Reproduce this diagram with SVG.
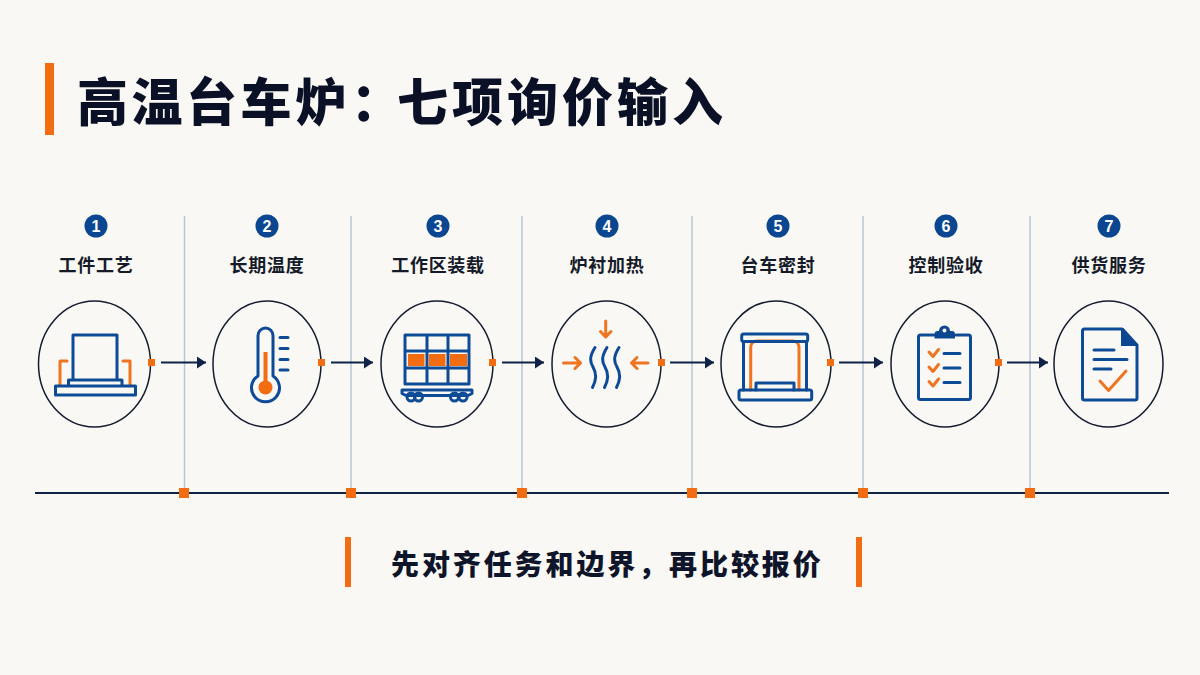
<svg xmlns="http://www.w3.org/2000/svg" width="1200" height="675" viewBox="0 0 1200 675">
<defs>
<marker id="ah" markerUnits="userSpaceOnUse" markerWidth="10" markerHeight="12" refX="9" refY="6" orient="auto"><path d="M0 0L9 6L0 12Z" fill="#0f2347"/></marker>
</defs>
<style>
text{font-family:"Noto Sans CJK SC","Liberation Sans",sans-serif;text-anchor:middle}
.title{font-size:51px;font-weight:900;fill:#0a1126;letter-spacing:3.500px;text-anchor:start}
.num{font-size:16px;font-weight:700;fill:#fff;font-family:"Liberation Sans",sans-serif}
.lab{font-size:18px;font-weight:700;fill:#141a28;letter-spacing:.7px}
.foot{font-size:28px;font-weight:900;fill:#0e1429;letter-spacing:2.900px;text-anchor:start}
.ring{fill:none;stroke:#141c30;stroke-width:1.500}
.b{fill:none;stroke:#0e4b97;stroke-width:3;stroke-linejoin:round;stroke-linecap:round}
.o{fill:none;stroke:#ee7420;stroke-width:3;stroke-linejoin:round;stroke-linecap:round}
.oo{fill:#f26c12}
.nb{fill:#0b4690}
.conn{stroke:#0f2347;stroke-width:2;fill:none;marker-end:url(#ah)}
.v{stroke:#b4c6d6;stroke-width:1.500}
</style>
<rect width="1200" height="675" fill="#faf8f5"/>
<rect x="45" y="63" width="9" height="72" class="oo"/>
<text class="title" y="120.500"><tspan x="77">高温台车炉</tspan><tspan x="351" style="letter-spacing:-6px">：</tspan><tspan x="397" style="letter-spacing:4px">七项询价输入</tspan></text>
<g id="rules">
<line class="v" x1="184.500" y1="216" x2="184.500" y2="492"/>
<line class="v" x1="351" y1="216" x2="351" y2="492"/>
<line class="v" x1="522" y1="216" x2="522" y2="492"/>
<line class="v" x1="692" y1="216" x2="692" y2="492"/>
<line class="v" x1="863" y1="216" x2="863" y2="492"/>
<line class="v" x1="1030" y1="216" x2="1030" y2="492"/>
<line x1="35" y1="493" x2="1169" y2="493" stroke="#0f2347" stroke-width="2"/>
<g class="oo">
<rect x="179" y="488" width="10" height="10"/><rect x="346" y="488" width="10" height="10"/><rect x="517" y="488" width="10" height="10"/><rect x="687" y="488" width="10" height="10"/><rect x="858" y="488" width="10" height="10"/><rect x="1025" y="488" width="10" height="10"/>
</g>
</g>
<g id="connectors">
<line class="conn" x1="161" y1="362.500" x2="206" y2="362.500"/>
<line class="conn" x1="331" y1="362.500" x2="373" y2="362.500"/>
<line class="conn" x1="502" y1="362.500" x2="544" y2="362.500"/>
<line class="conn" x1="670" y1="362.500" x2="714" y2="362.500"/>
<line class="conn" x1="839" y1="362.500" x2="883" y2="362.500"/>
<line class="conn" x1="1007" y1="362.500" x2="1048" y2="362.500"/>
</g>
<g id="node1">
<circle cx="96" cy="226" r="11.500" class="nb"/><text class="num" x="96" y="231.500">1</text>
<text class="lab" x="96" y="271.500">工件工艺</text>
<ellipse class="ring" cx="94.500" cy="364" rx="56" ry="63"/>
<path class="o" d="M60 385V361H67M130 385V361H123"/>
<path class="b" d="M73 380V335H117V380M68.500 386V380H122V386M55.500 386H135.500V395H55.500Z"/>
</g>
<g id="node2">
<circle cx="267" cy="226" r="11.500" class="nb"/><text class="num" x="267" y="231.500">2</text>
<text class="lab" x="267" y="271.500">长期温度</text>
<ellipse class="ring" cx="267" cy="364" rx="54" ry="63"/>
<path class="b" d="M258 376V335.500A7.500 7.500 0 0 1 273 335.500V376A14 14 0 1 1 258 376Z"/>
<line x1="265.500" y1="352" x2="265.500" y2="385" stroke="#f26c12" stroke-width="4"/>
<circle cx="265.500" cy="387.500" r="7" class="oo"/>
<path class="b" d="M280 337.500H288M280 348.500H288M280 359.500H288M280 370H288"/>
</g>
<g id="node3">
<circle cx="438" cy="226" r="11.500" class="nb"/><text class="num" x="438" y="231.500">3</text>
<text class="lab" x="438" y="271.500">工作区装载</text>
<ellipse class="ring" cx="437" cy="364" rx="56" ry="63"/>
<rect x="408" y="354" width="16.500" height="12" class="oo"/><rect x="429" y="354" width="16.500" height="12" class="oo"/><rect x="450" y="354" width="17" height="12" class="oo"/>
<path class="b" d="M405 335H469V384H405ZM427 335V384M448 335V384M405 351H469M405 368H469" stroke-linecap="butt"/>
<path class="b" d="M402 390H472V393.500L468 395.500H406L402 393.500Z" stroke-width="2.500"/>
<g class="b" fill="#faf8f5" stroke-width="2.500"><circle cx="411" cy="397" r="4"/><circle cx="418.500" cy="397" r="4"/><circle cx="454.500" cy="397" r="4"/><circle cx="463" cy="397" r="4"/></g>
</g>
<g id="node4">
<circle cx="607" cy="226" r="11.500" class="nb"/><text class="num" x="607" y="231.500">4</text>
<text class="lab" x="607" y="271.500">炉衬加热</text>
<ellipse class="ring" cx="606.500" cy="364" rx="54.500" ry="63"/>
<path class="o" stroke-width="2" d="M605.700 321V337M600.500 331.500L605.700 337L611 331.500M563.500 363H580.500M575 357.500L580.500 363L575 368.500M648 363H631.500M637 357.500L631.500 363L637 368.500"/>
<path class="b" d="M595 347.500C589 357 590 362 593 367C596 372 597 379 592.500 387.500M607 347.500C601 357 602 362 605 367C608 372 609 379 604.500 387.500M619 347.500C613 357 614 362 617 367C620 372 621 379 616.500 387.500"/>
</g>
<g id="node5">
<circle cx="778" cy="226" r="11.500" class="nb"/><text class="num" x="778" y="231.500">5</text>
<text class="lab" x="778" y="271.500">台车密封</text>
<ellipse class="ring" cx="776" cy="364" rx="55" ry="63"/>
<path class="o" d="M750.700 390V347A6 6 0 0 1 756.700 341H793A6 6 0 0 1 799 347V390"/>
<path class="b" d="M743.500 390V341.500M806.500 390V341.500"/>
<rect class="b" x="741.700" y="334" width="66" height="7.500" rx="2"/>
<rect class="b" x="739" y="390" width="72.700" height="10" rx="2"/>
<path class="b" d="M756 390V383H794V390"/>
</g>
<g id="node6">
<circle cx="946" cy="226" r="11.500" class="nb"/><text class="num" x="946" y="231.500">6</text>
<text class="lab" x="946" y="271.500">控制验收</text>
<ellipse class="ring" cx="945" cy="364" rx="54" ry="63"/>
<path class="b" d="M934 335H920.500A2 2 0 0 0 918.500 337V397.500A2 2 0 0 0 920.500 399.500H968.500A2 2 0 0 0 970.500 397.500V337A2 2 0 0 0 968.500 335H956"/>
<path class="nb" fill-rule="evenodd" d="M934.500 338.500V334Q934.500 331 938 331H939A5.500 5.500 0 0 1 950 331H952Q955 331 955 334V338.500ZM944.500 328.500A2 2 0 1 0 944.510 328.500Z"/>
<path class="o" d="M929 352L933 356.500L938.500 349.500M929 367L933 371.500L938.500 364.500M929 381.500L933 386L938.500 379"/>
<path class="b" d="M944 353.500H960M944 368H960M944 382.500H960"/>
</g>
<g id="node7">
<circle cx="1109" cy="226" r="11.500" class="nb"/><text class="num" x="1109" y="231.500">7</text>
<text class="lab" x="1109" y="271.500">供货服务</text>
<ellipse class="ring" cx="1108.500" cy="364" rx="54.500" ry="63"/>
<path class="b" d="M1122 329H1084.500A2 2 0 0 0 1082.500 331V398A2 2 0 0 0 1084.500 400H1135A2 2 0 0 0 1137 398V345"/>
<path class="nb" d="M1121 328H1123.500L1138 344V346H1121Z"/>
<path class="b" d="M1094 350H1114M1094 359.500H1127M1094 369H1111"/>
<path class="o" stroke-width="3.500" d="M1100 381L1108.500 390.500L1126 371"/>
</g>
<g id="ports" class="oo">
<rect x="148" y="359" width="7" height="7"/><rect x="318" y="359" width="7" height="7"/><rect x="489" y="359" width="7" height="7"/><rect x="658" y="359" width="7" height="7"/><rect x="827" y="359" width="7" height="7"/><rect x="995" y="359" width="7" height="7"/>
</g>
<g id="footer">
<rect x="345" y="537" width="6" height="50" class="oo"/>
<rect x="856" y="537" width="6" height="50" class="oo"/>
<text class="foot" x="391" y="575">先对齐任务和边界，再比较报价</text>
</g>
</svg>
